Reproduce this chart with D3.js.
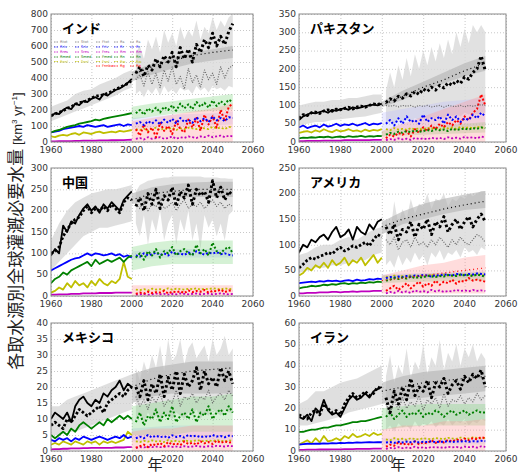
<!DOCTYPE html>
<html><head><meta charset="utf-8">
<script src="https://cdn.jsdelivr.net/npm/d3@7"></script>
<style>body{margin:0;background:#fff}svg{display:block}</style>
</head><body>
<svg id="c" width="518" height="473"></svg>
<script>
// ---------- shared x values ----------
const histYears = [1960,1962,1964,1966,1968,1970,1972,1974,1976,1978,1980,1982,1984,1986,1988,1990,1992,1994,1996,1998,2000];
const histBandYears = [1960,1964,1968,1972,1976,1980,1984,1988,1992,1996,2000];
const futYears = [2002,2004,2006,2008,2010,2012,2014,2016,2018,2020,2022,2024,2026,2028,2030,2032,2034,2036,2038,2040,2042,2044,2046,2048,2050];
const trendYears = [2000,2010,2020,2030,2040,2050];
const xTickLabels = [1960,1980,2000,2020,2040,2060];

// ---------- panel names & y ticks ----------
const panelNames = ["インド","パキスタン","中国","アメリカ","メキシコ","イラン"];
const indiaTicks = [0,100,200,300,400,500,600,700,800];
const pakTicks = [0,50,100,150,200,250,300,350];
const chnTicks = [0,50,100,150,200,250,300];
const usaTicks = [0,50,100,150,200,250];
const mexTicks = [0,5,10,15,20,25,30,35,40];
const iranTicks = [0,10,20,30,40,50,60];

// ---------- India ----------
const indiaHistTotal = [160,180,175,200,215,205,240,230,255,250,270,280,265,300,290,310,325,335,350,370,395];
const indiaHistDots = [165,175,185,195,210,220,235,245,250,260,275,285,290,295,305,315,330,340,355,365,385];
const indiaHistGreen = [60,70,75,85,95,100,105,115,120,125,130,140,135,145,150,155,160,165,170,175,180];
const indiaHistBlue = [60,65,70,80,85,90,95,100,95,105,100,95,100,105,95,100,105,110,100,110,105];
const indiaHistYellow = [35,30,40,45,40,50,55,45,60,55,50,60,65,55,60,65,60,70,65,70,75];
const indiaHistMagenta = [3,4,5,5,6,6,7,7,8,8,9,9,10,10,10,11,11,12,12,13,14];
const indiaHistBandLo = [130,150,170,190,210,230,250,270,290,320,340];
const indiaHistBandHi = [220,240,260,300,320,330,360,380,400,430,450];
const indiaFutDots = [430,470,410,480,450,520,470,540,500,560,470,590,520,580,500,610,560,640,590,680,600,660,610,690,740];
const indiaFutGray = [390,420,350,440,360,430,340,450,380,470,360,410,330,460,370,420,340,450,390,430,360,470,400,460,480];
const indiaFutGreen = [180,200,170,210,190,215,185,220,200,230,195,240,210,235,205,250,220,245,215,260,225,255,235,265,250];
const indiaFutBlue = [115,125,105,130,115,135,110,140,120,145,115,150,125,140,120,155,130,150,125,160,135,150,130,155,150];
const indiaFutRed = [80,40,110,60,90,30,120,70,100,50,130,80,60,140,90,150,70,170,110,160,90,200,130,220,240];
const indiaFutYellow = [80,75,85,70,80,90,75,85,80,90,75,85,80,90,85,80,90,85,80,95,85,90,80,95,90];
const indiaFutMagenta = [20,25,15,30,20,25,30,20,25,35,20,30,25,35,30,25,35,30,40,30,35,40,30,40,35];
const indiaFutBandLo = [300,320,280,330,300,340,290,350,310,330,300,340,320,330,300,350,320,340,310,350,330,340,320,350,340];
const indiaFutBandHi = [560,600,520,640,580,660,560,700,620,680,600,720,640,700,660,760,640,720,680,780,700,760,720,780,800];
const indiaTrendMid = [420,470,510,540,560,575];
const indiaTrendLo = [380,420,460,490,510,525];
const indiaTrendHi = [440,490,530,560,580,600];
const indiaGreenBandLo = [140,160,175,185,195,205];
const indiaGreenBandHi = [220,240,255,270,285,300];
const indiaRedBandLo = [0,0,0,0,0,0];
const indiaRedBandHi = [130,150,170,190,210,240];
const indiaBlueBandLo = [80,90,95,100,105,110];
const indiaBlueBandHi = [150,160,170,175,180,190];

// ---------- Pakistan ----------
const pakHistTotal = [60,70,75,80,78,82,85,80,88,85,90,92,88,95,92,95,98,100,102,100,105];
const pakHistDots = [65,75,72,80,82,78,85,88,84,90,88,92,95,90,96,98,95,100,104,102,108];
const pakHistGreen = [10,12,11,13,12,14,13,15,12,14,15,13,16,14,15,17,14,16,15,17,16];
const pakHistBlue = [40,45,38,42,45,40,48,42,45,50,44,48,46,50,45,48,52,46,50,48,52];
const pakHistYellow = [25,28,30,26,32,28,35,30,27,33,29,31,35,30,32,28,34,30,33,31,35];
const pakHistMagenta = [2,2,3,3,3,3,4,4,4,4,4,5,5,5,5,5,5,5,6,6,6];
const pakHistBandLo = [45,50,55,55,60,62,65,68,70,75,80];
const pakHistBandHi = [100,105,110,110,115,115,120,120,125,130,130];
const pakFutDots = [108,118,112,125,120,132,126,138,130,145,138,150,142,155,148,162,155,168,160,178,172,190,200,235,195];
const pakFutGray = [100,98,100,96,100,98,100,95,100,97,100,96,98,100,95,100,98,97,100,96,100,98,100,102,100];
const pakFutGreen = [20,25,22,28,25,30,27,32,28,30,33,30,35,32,34,30,36,33,35,37,34,38,36,40,38];
const pakFutBlue = [50,60,45,65,50,70,55,60,50,75,55,65,60,70,50,75,60,70,55,65,60,75,65,80,70];
const pakFutRed = [10,20,15,25,20,30,15,35,25,40,30,45,35,50,40,55,45,60,50,70,60,80,90,130,100];
const pakFutYellow = [35,32,38,34,36,33,38,35,37,34,39,36,38,35,40,37,39,36,41,38,40,37,42,39,40];
const pakFutMagenta = [5,8,6,10,7,9,6,11,8,10,7,12,9,11,8,13,10,12,9,14,11,13,10,15,12];
const pakFutBandLo = [50,55,50,60,55,60,55,65,60,65,60,70,65,70,65,75,70,75,70,80,75,80,75,80,80];
const pakFutBandHi = [140,190,150,210,170,230,180,240,200,250,210,260,220,270,230,280,240,300,260,310,270,320,300,320,300];
const pakTrendMid = [100,125,150,170,195,215];
const pakTrendLo = [95,115,140,160,180,195];
const pakTrendHi = [110,140,165,190,215,235];
const pakGreenBandLo = [15,18,20,22,24,26];
const pakGreenBandHi = [30,35,40,45,50,55];
const pakRedBandLo = [0,0,0,0,0,0];
const pakRedBandHi = [30,50,70,90,110,130];
const pakBlueBandLo = [30,35,38,40,42,45];
const pakBlueBandHi = [80,90,100,110,115,120];

// ---------- China ----------
const chnHistTotal = [95,110,100,165,150,175,170,190,205,215,200,210,195,215,205,220,210,200,225,235,245];
const chnHistDots = [100,105,115,140,155,170,180,185,200,210,195,205,200,210,200,215,205,195,220,230,225];
const chnHistGreen = [30,40,45,55,50,60,65,70,75,80,70,85,75,80,85,80,85,90,80,90,95];
const chnHistBlue = [60,65,70,75,80,85,88,90,95,100,95,100,98,95,97,100,95,98,92,95,90];
const chnHistYellow = [8,12,20,15,30,20,35,25,30,20,35,25,40,30,25,35,30,40,80,45,40];
const chnHistMagenta = [3,3,4,4,4,5,5,5,6,6,6,6,7,7,7,7,8,8,8,8,8];
const chnHistBandLo = [60,80,100,120,140,150,160,160,165,170,175];
const chnHistBandHi = [130,170,200,220,230,240,245,250,250,255,260];
const chnFutDots = [210,230,200,240,215,250,205,235,225,255,210,245,230,260,215,250,235,245,220,270,230,255,225,245,235];
const chnFutGray = [215,205,220,200,215,210,225,205,210,220,200,215,225,205,215,210,220,205,215,225,210,220,205,215,210];
const chnFutGreen = [90,100,85,105,95,110,90,105,100,115,95,105,110,100,95,120,100,110,95,125,105,100,110,115,100];
const chnFutBlue = [95,92,100,95,98,102,96,100,95,104,98,100,96,102,98,105,100,97,102,99,103,98,100,97,95];
const chnFutRed = [5,8,6,10,7,9,8,12,6,10,9,11,7,13,9,12,10,14,8,12,11,15,9,13,12];
const chnFutYellow = [15,14,16,13,17,15,16,14,18,15,17,16,15,17,16,18,15,17,16,18,17,15,18,16,17];
const chnFutMagenta = [3,4,5,3,4,6,4,5,3,5,4,6,5,4,5,6,4,5,6,4,5,6,5,4,5];
const chnFutBandLo = [170,140,190,120,180,150,200,130,170,190,120,180,150,200,130,170,110,190,160,180,140,170,130,190,200];
const chnFutBandHi = [245,260,265,270,272,275,276,278,278,280,280,280,280,280,280,280,280,278,278,278,278,276,276,275,275];
const chnTrendMid = [225,240,245,250,250,250];
const chnTrendLo = [215,225,230,232,232,232];
const chnTrendHi = [240,255,262,266,268,268];
const chnGreenBandLo = [60,70,75,75,75,75];
const chnGreenBandHi = [115,125,130,130,130,130];
const chnRedBandLo = [0,0,0,0,0,0];
const chnRedBandHi = [25,25,25,25,25,25];
const chnBlueBandLo = [85,88,90,90,90,90];
const chnBlueBandHi = [105,108,110,110,110,110];

// ---------- USA ----------
const usaHistTotal = [85,100,95,110,105,115,120,110,125,135,115,120,130,110,135,125,120,140,130,145,150];
const usaHistDots = [55,62,70,75,72,78,80,85,82,90,95,88,92,98,95,100,105,98,110,120,115];
const usaHistGreen = [15,17,18,20,19,20,22,21,23,22,24,25,23,25,24,26,25,27,26,28,27];
const usaHistBlue = [25,26,27,28,27,29,28,30,29,30,28,30,31,29,32,30,31,33,32,34,33];
const usaHistYellow = [40,45,55,50,60,55,65,55,70,60,65,75,60,70,65,75,60,70,80,65,75];
const usaHistMagenta = [5,5,6,6,6,7,7,7,8,8,7,8,8,9,8,9,9,9,10,10,10];
const usaHistBandLo = [45,50,55,55,60,60,65,70,70,80,85];
const usaHistBandHi = [80,85,95,100,100,110,115,110,120,130,135];
const usaFutDots = [135,120,140,110,130,125,145,115,140,130,150,120,145,135,155,125,140,150,130,145,155,135,150,160,145];
const usaFutGray = [110,100,115,90,105,110,95,115,100,105,95,110,100,115,105,95,110,100,115,105,100,110,120,115,105];
const usaFutGreen = [30,32,35,33,36,34,38,35,37,36,40,38,37,39,38,41,40,39,42,40,41,39,42,40,38];
const usaFutBlue = [35,37,36,38,37,39,38,40,39,41,40,38,41,40,42,41,40,43,42,41,43,42,44,43,42];
const usaFutRed = [10,15,20,12,18,25,15,22,28,18,25,20,30,22,28,25,32,24,30,28,35,30,32,30,28];
const usaFutYellow = [38,36,40,37,39,38,41,37,40,39,38,41,40,39,42,40,39,41,40,42,41,40,42,41,40];
const usaFutMagenta = [5,8,6,10,7,9,6,11,8,10,7,12,9,11,8,10,9,12,10,11,9,12,10,11,10];
const usaFutBandLo = [60,70,55,80,60,75,65,85,70,80,60,85,75,90,70,85,80,90,75,95,85,90,80,95,90];
const usaFutBandHi = [150,120,185,140,170,150,190,160,180,175,200,170,190,185,200,175,190,185,195,190,200,195,200,205,205];
const usaTrendMid = [135,150,160,170,178,185];
const usaTrendLo = [120,140,150,160,168,172];
const usaTrendHi = [145,165,180,190,198,205];
const usaGreenBandLo = [25,27,28,29,30,30];
const usaGreenBandHi = [40,42,44,45,46,47];
const usaRedBandLo = [5,5,5,5,5,5];
const usaRedBandHi = [40,50,60,65,75,80];
const usaBlueBandLo = [30,32,33,34,35,36];
const usaBlueBandHi = [42,44,45,46,47,48];
const usaRedTrend = [30,35,40,45,50,55];

// ---------- Mexico ----------
const mexHistTotal = [10,12,11,10,12,9,14,16,17,15,14,16,15,18,17,19,20,22,19,21,20];
const mexHistDots = [8,9,8,7,10,9,11,13,12,11,12,13,14,12,15,16,17,18,17,19,20];
const mexHistGreen = [5,4,5,6,5,7,6,8,9,8,7,8,9,8,10,9,10,11,10,11,10];
const mexHistBlue = [3.5,3,4,3.5,4,3,4,3.5,4.5,4,3.5,4,4.5,4,3.5,4,4.5,4,5,4,4.5];
const mexHistYellow = [2,2.5,2,3,2.5,2,3,2.5,2,3,2.5,3,2,3,2.5,3,2.5,3,3.5,6,5];
const mexHistMagenta = [0.5,0.6,0.6,0.7,0.7,0.8,0.8,0.8,0.9,0.9,1,1,1,1,1,1,1.1,1.1,1.1,1.2,1.2];
const mexHistBandLo = [5,5,6,6,7,8,9,10,11,12,13];
const mexHistBandHi = [14,14,16,17,18,19,20,21,22,23,24];
const mexFutDots = [20,17,22,16,21,18,24,17,23,19,25,18,24,20,22,26,19,25,21,23,20,26,22,25,21];
const mexFutGray = [17,14,16,13,17,15,18,14,16,15,19,14,17,16,18,15,17,16,19,15,17,18,16,19,17];
const mexFutGreen = [9,12,8,11,10,13,9,12,10,14,9,11,12,10,13,9,12,11,14,10,12,13,11,14,12];
const mexFutBlue = [4,4.5,4,5,4.2,4.8,4.3,4.6,4.1,4.9,4.4,4.7,4.2,5,4.5,4.8,4.3,4.6,4.4,5,4.5,4.7,4.3,4.8,4.6];
const mexFutRed = [1,1.5,2,1.2,2.2,1.8,2.5,1.5,2.8,2,2.4,1.8,3,2.2,2.6,2,3,2.4,2.8,2.2,3.2,2.5,3,2.6,2.8];
const mexFutYellow = [3,2.8,3.2,2.9,3.3,3,3.1,2.8,3.4,3,3.2,2.9,3.3,3.1,3,3.4,3.2,3,3.3,3.1,3.4,3.2,3,3.3,3.2];
const mexFutMagenta = [1,1.2,1.1,1.3,1.2,1.4,1.2,1.3,1.5,1.3,1.4,1.2,1.5,1.3,1.4,1.6,1.4,1.3,1.5,1.4,1.6,1.5,1.4,1.6,1.5];
const mexFutBandLo = [10,11,9,12,10,11,9,12,11,10,12,11,10,12,11,13,10,12,11,13,12,11,13,12,12];
const mexFutBandHi = [26,22,28,24,30,26,33,25,35,28,30,35,27,32,34,29,31,33,28,35,30,32,36,30,32];
const mexTrendMid = [20,22.5,24,25,25.5,26];
const mexTrendLo = [15,17,18,18,18,18];
const mexTrendHi = [24,26,27,28,28,28];
const mexGreenBandLo = [5,5,5,6,6,6];
const mexGreenBandHi = [14,15,16,17,17,18];
const mexRedBandLo = [0,0,0,0,0,0];
const mexRedBandHi = [6,7,7,8,8,8];
const mexBlueBandLo = [3,3,3,3,3,3];
const mexBlueBandHi = [7,7.5,8,8,8,8];

// ---------- Iran ----------
const iranHistTotal = [16,15,17,14,20,18,24,19,17,18,16,20,24,26,24,25,27,25,28,29,30];
const iranHistDots = [17,16,15,18,19,17,22,20,18,19,17,22,25,27,25,26,28,26,27,30,29];
const iranHistGreen = [9,9,9.5,10,10,10.5,11,11,11.5,12,12,12.5,13,13.5,13.5,14,14,14.5,15,15.5,16];
const iranHistBlue = [3,3.2,3.4,3.3,3.5,3.4,3.6,3.5,3.7,3.6,3.8,3.7,3.9,3.8,4,3.9,4,4.1,4,4.2,4.1];
const iranHistYellow = [3,4,5,3.5,6,4,7,4.5,5,6,5,7,6,8,6.5,7,8,7,8.5,7.5,8];
const iranHistMagenta = [0.5,0.5,0.6,0.6,0.6,0.7,0.7,0.7,0.8,0.8,0.8,0.9,0.9,0.9,1,1,1,1,1.1,1.1,1.1];
const iranHistBandLo = [12,12,13,14,15,16,18,19,20,21,22];
const iranHistBandHi = [22,24,28,28,30,32,33,34,36,38,40];
const iranFutDots = [25,18,28,22,30,24,34,26,30,28,33,25,32,30,34,27,31,33,29,35,32,36,34,38,30];
const iranFutGray = [22,18,24,19,25,20,23,21,26,19,24,22,25,20,27,21,24,23,26,22,25,23,27,24,26];
const iranFutGreen = [16,18,15,17,19,16,18,17,19,16,18,17,19,18,16,18,19,17,18,19,17,18,19,18,18];
const iranFutBlue = [4,4.2,3.8,4.3,4,4.4,4.1,4.5,4,4.3,4.2,4.6,4.1,4.4,4.3,4.6,4.2,4.5,4.4,4.7,4.3,4.6,4.5,4.8,4.6];
const iranFutRed = [2,3,2.5,4,3,3.5,2.8,4.5,3.2,4,3.6,5,3.8,4.6,4,5.2,4.4,5.5,4.8,5.8,5,6,5.5,6.5,6];
const iranFutYellow = [5.5,5,6,5.5,5.8,5.2,6,5.6,5.4,6,5.7,5.5,6.1,5.8,5.6,6.2,5.9,5.7,6.3,6,5.8,6.4,6.1,5.9,6.2];
const iranFutMagenta = [1,1.5,1.2,1.8,1.3,1.6,1.4,2,1.5,1.7,1.3,1.9,1.6,1.8,1.4,2,1.7,1.9,1.5,2.1,1.8,2,1.6,2.2,1.9];
const iranFutBandLo = [10,12,9,13,11,12,10,14,11,13,12,14,11,13,12,15,12,14,13,15,12,14,13,15,14];
const iranFutBandHi = [35,45,32,40,36,48,34,42,38,50,36,44,40,52,38,46,42,50,40,48,44,50,42,46,43];
const iranTrendMid = [28,30,32,33,34,35];
const iranTrendLo = [22,24,25,26,27,28];
const iranTrendHi = [32,35,37,38,39,40];
const iranGreenBandLo = [10,11,12,12,12,12];
const iranGreenBandHi = [20,21,22,22,22,22];
const iranRedBandLo = [0,0,0,0,0,0];
const iranRedBandHi = [10,12,12,14,14,15];
const iranBlueBandLo = [3,3,3,3,3,3];
const iranBlueBandHi = [6,6,6,6,6,6];

// ---------- legend (India panel) ----------
const legendCols = [
  ["Rtot","Rriv","Rres","Rmed","Rnnl"],
  ["Stot","Sriv","Sres","Smed","Snnl"],
  ["Ftot","Friv","Fres","Fmed","Fnnl","Fnnbw"],
  ["Rs","Rr","Rm","Rn","Rw","Rg"],
  ["Rs","Rr","Rm","Rn","Rw","Rg"]
];
const legendColors = ["#777","#0000ff","#bf00bf","#008000","#bfbf00","#ff0000"];

// ---------- assemble ----------
function mk(name,col,row,yMax,ticks,hT,hD,hG,hB,hY,hM,hbL,hbH,fD,fGr,fG,fB,fR,fY,fM,fbL,fbH,tM,tL,tH,gL,gH,rL,rH,bL,bH,rT){
  return {name,col,row,yMax,ticks,hT,hD,hG,hB,hY,hM,hbL,hbH,fD,fGr,fG,fB,fR,fY,fM,fbL,fbH,tM,tL,tH,gL,gH,rL,rH,bL,bH,rT};
}
const panels = [
  mk(panelNames[0],0,0,800,indiaTicks,indiaHistTotal,indiaHistDots,indiaHistGreen,indiaHistBlue,indiaHistYellow,indiaHistMagenta,indiaHistBandLo,indiaHistBandHi,indiaFutDots,indiaFutGray,indiaFutGreen,indiaFutBlue,indiaFutRed,indiaFutYellow,indiaFutMagenta,indiaFutBandLo,indiaFutBandHi,indiaTrendMid,indiaTrendLo,indiaTrendHi,indiaGreenBandLo,indiaGreenBandHi,indiaRedBandLo,indiaRedBandHi,indiaBlueBandLo,indiaBlueBandHi,null),
  mk(panelNames[1],1,0,350,pakTicks,pakHistTotal,pakHistDots,pakHistGreen,pakHistBlue,pakHistYellow,pakHistMagenta,pakHistBandLo,pakHistBandHi,pakFutDots,pakFutGray,pakFutGreen,pakFutBlue,pakFutRed,pakFutYellow,pakFutMagenta,pakFutBandLo,pakFutBandHi,pakTrendMid,pakTrendLo,pakTrendHi,pakGreenBandLo,pakGreenBandHi,pakRedBandLo,pakRedBandHi,pakBlueBandLo,pakBlueBandHi,null),
  mk(panelNames[2],0,1,300,chnTicks,chnHistTotal,chnHistDots,chnHistGreen,chnHistBlue,chnHistYellow,chnHistMagenta,chnHistBandLo,chnHistBandHi,chnFutDots,chnFutGray,chnFutGreen,chnFutBlue,chnFutRed,chnFutYellow,chnFutMagenta,chnFutBandLo,chnFutBandHi,chnTrendMid,chnTrendLo,chnTrendHi,chnGreenBandLo,chnGreenBandHi,chnRedBandLo,chnRedBandHi,chnBlueBandLo,chnBlueBandHi,null),
  mk(panelNames[3],1,1,250,usaTicks,usaHistTotal,usaHistDots,usaHistGreen,usaHistBlue,usaHistYellow,usaHistMagenta,usaHistBandLo,usaHistBandHi,usaFutDots,usaFutGray,usaFutGreen,usaFutBlue,usaFutRed,usaFutYellow,usaFutMagenta,usaFutBandLo,usaFutBandHi,usaTrendMid,usaTrendLo,usaTrendHi,usaGreenBandLo,usaGreenBandHi,usaRedBandLo,usaRedBandHi,usaBlueBandLo,usaBlueBandHi,usaRedTrend),
  mk(panelNames[4],0,2,40,mexTicks,mexHistTotal,mexHistDots,mexHistGreen,mexHistBlue,mexHistYellow,mexHistMagenta,mexHistBandLo,mexHistBandHi,mexFutDots,mexFutGray,mexFutGreen,mexFutBlue,mexFutRed,mexFutYellow,mexFutMagenta,mexFutBandLo,mexFutBandHi,mexTrendMid,mexTrendLo,mexTrendHi,mexGreenBandLo,mexGreenBandHi,mexRedBandLo,mexRedBandHi,mexBlueBandLo,mexBlueBandHi,null),
  mk(panelNames[5],1,2,60,iranTicks,iranHistTotal,iranHistDots,iranHistGreen,iranHistBlue,iranHistYellow,iranHistMagenta,iranHistBandLo,iranHistBandHi,iranFutDots,iranFutGray,iranFutGreen,iranFutBlue,iranFutRed,iranFutYellow,iranFutMagenta,iranFutBandLo,iranFutBandHi,iranTrendMid,iranTrendLo,iranTrendHi,iranGreenBandLo,iranGreenBandHi,iranRedBandLo,iranRedBandHi,iranBlueBandLo,iranBlueBandHi,null)
];

// ---------- drawing ----------
const svg = d3.select("#c");
const colX = [[51,253],[299,506]];
const rowY = [[14,142],[168,296],[323,451]];
const COL = {black:"#000",green:"#008000",blue:"#0000ff",yellow:"#bfbf00",magenta:"#bf00bf",red:"#ff0000"};
const tickFont = "'DejaVu Sans', sans-serif";
const cjk = "'Noto Sans CJK JP', sans-serif";

panels.forEach((p,i) => {
  const [x0,x1] = colX[p.col], [y0,y1] = rowY[p.row];
  const x = d3.scaleLinear().domain([1960,2060]).range([x0,x1]);
  const y = d3.scaleLinear().domain([0,p.yMax]).range([y1,y0]);
  const g = svg.append("g");
  const cid = "clip"+i;
  g.append("clipPath").attr("id",cid).append("rect")
    .attr("x",x0).attr("y",y0).attr("width",x1-x0).attr("height",y1-y0);

  // grid
  g.append("g").attr("transform",`translate(0,${y1})`)
    .call(d3.axisBottom(x).tickValues(xTickLabels).tickSize(-(y1-y0)).tickFormat(""))
    .call(s=>{s.select(".domain").remove(); s.selectAll("line").attr("stroke","#c8c8c8").attr("stroke-dasharray","1,2");});
  g.append("g").attr("transform",`translate(${x0},0)`)
    .call(d3.axisLeft(y).tickValues(p.ticks).tickSize(-(x1-x0)).tickFormat(""))
    .call(s=>{s.select(".domain").remove(); s.selectAll("line").attr("stroke","#c8c8c8").attr("stroke-dasharray","1,2");});

  const d = g.append("g").attr("clip-path",`url(#${cid})`);
  const band = (years,lo,hi,fill,op) => {
    const data = years.map((yr,k)=>[yr,lo[k],hi[k]]);
    d.append("path").datum(data)
      .attr("d",d3.area().x(v=>x(v[0])).y0(v=>y(v[1])).y1(v=>y(v[2])))
      .attr("fill",fill).attr("fill-opacity",op).attr("stroke","none");
  };
  const line = (years,vals,color,w,dash) => {
    const data = years.map((yr,k)=>[yr,vals[k]]);
    const path = d.append("path").datum(data)
      .attr("d",d3.line().x(v=>x(v[0])).y(v=>y(v[1])))
      .attr("fill","none").attr("stroke",color).attr("stroke-width",w)
      .attr("stroke-linejoin","round");
    if (dash) path.attr("stroke-dasharray",dash);
  };

  // bands
  band(histBandYears,p.hbL,p.hbH,"#d4d4d4",0.75);
  band(futYears,p.fbL,p.fbH,"#d9d9d9",0.8);
  band(trendYears,p.tL,p.tH,"#b3b3b3",0.6);
  band(trendYears,p.bL,p.bH,"#b8b8ff",0.3);
  band(trendYears,p.gL,p.gH,"#88d888",0.35);
  band(trendYears,p.rL,p.rH,"#ff9c9c",0.35);

  // future series
  line(futYears,p.fM,COL.magenta,1.8,"2,2");
  line(futYears,p.fY,COL.yellow,1.8,"2,2");
  line(futYears,p.fR,COL.red,2,"2,2");
  line(futYears,p.fB,COL.blue,2,"2,2");
  line(futYears,p.fG,COL.green,2,"2,2");
  line(futYears,p.fGr,"#666",1.2,"1,1.5");
  if (p.rT) line(trendYears,p.rT,COL.red,1.2,"1,3");
  line(trendYears,p.tM,"#000",1.2,"1,3");
  line(futYears,p.fD,"#000",3,"2.5,2.5");

  // historical series
  line(histYears,p.hM,COL.magenta,1.8,null);
  line(histYears,p.hY,COL.yellow,1.8,null);
  line(histYears,p.hB,COL.blue,1.8,null);
  line(histYears,p.hG,COL.green,1.8,null);
  line(histYears,p.hD,"#000",2.8,"2.5,2");
  line(histYears,p.hT,"#000",1.8,null);

  // frame
  g.append("rect").attr("x",x0).attr("y",y0).attr("width",x1-x0).attr("height",y1-y0)
    .attr("fill","none").attr("stroke","#8a8a8a").attr("stroke-width",1);

  // tick labels
  g.selectAll(".xl").data(xTickLabels).enter().append("text")
    .attr("x",v=>x(v)).attr("y",y1+11).attr("text-anchor","middle")
    .attr("font-family",tickFont).attr("font-size",9).attr("fill","#333").text(v=>v);
  g.selectAll(".yl").data(p.ticks).enter().append("text")
    .attr("x",x0-3).attr("y",v=>y(v)).attr("dy","0.3em").attr("text-anchor","end")
    .attr("font-family",tickFont).attr("font-size",9).attr("fill","#333").text(v=>v);

  // title
  g.append("text").attr("x",x0+11).attr("y",y0+19)
    .attr("font-family",cjk).attr("font-size",13).attr("font-weight","bold").attr("fill","#000").text(p.name);

  // legend in India panel
  if (i===0) {
    const lx = [54,75,96,114,130], ly = [42,47,52,57,61.5,66];
    legendCols.forEach((colItems,ci)=>{
      colItems.forEach((lab,ri)=>{
        g.append("line").attr("x1",lx[ci]).attr("x2",lx[ci]+5).attr("y1",ly[ri]).attr("y2",ly[ri])
          .attr("stroke",legendColors[ri]).attr("stroke-width",0.8).attr("stroke-dasharray","1.5,1");
        g.append("text").attr("x",lx[ci]+6).attr("y",ly[ri]+1.3)
          .attr("font-family",tickFont).attr("font-size",3.6).attr("fill",legendColors[ri]).text(lab);
      });
    });
  }
});

// axis titles
const yt = svg.append("text").attr("transform","translate(22,231) rotate(-90)")
  .attr("text-anchor","middle").attr("fill","#222");
yt.append("tspan").attr("font-family",cjk).attr("font-size",17).text("各取水源別全球灌漑必要水量 ");
yt.append("tspan").attr("font-family","'Liberation Sans', sans-serif").attr("font-size",13).text("[km");
yt.append("tspan").attr("font-family","'Liberation Sans', sans-serif").attr("font-size",8).attr("dy",-5).text("3");
yt.append("tspan").attr("font-family","'Liberation Sans', sans-serif").attr("font-size",13).attr("dy",5).text(" yr");
yt.append("tspan").attr("font-family","'Liberation Sans', sans-serif").attr("font-size",8).attr("dy",-5).text("−1");
yt.append("tspan").attr("font-family","'Liberation Sans', sans-serif").attr("font-size",13).attr("dy",5).text("]");

[155,398].forEach(cx=>{
  svg.append("text").attr("x",cx).attr("y",470).attr("text-anchor","middle")
    .attr("font-family",cjk).attr("font-size",15).attr("fill","#222").text("年");
});
</script>
</body></html>
